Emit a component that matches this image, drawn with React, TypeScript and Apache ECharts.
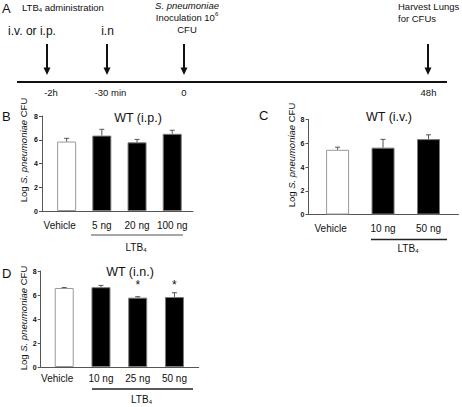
import React, { useEffect, useRef } from "react";
import * as echarts from "echarts";

// ---------- data ----------
const catsB = ["Vehicle", "5 ng", "20 ng", "100 ng"];
const valsB = [5.85, 6.35, 5.78, 6.5];
const errB = [0.27, 0.53, 0.25, 0.3];

const catsC = ["Vehicle", "10 ng", "50 ng"];
const valsC = [5.45, 5.63, 6.35];
const errC = [0.22, 0.7, 0.36];

const catsD = ["Vehicle", "10 ng", "25 ng", "50 ng"];
const valsD = [6.58, 6.65, 5.78, 5.83];
const errD = [0.04, 0.15, 0.08, 0.36];
const sigD = ["", "", "*", "*"];

const yTicks = [0, 2, 4, 6, 8];
const timeLabels = ["-2h", "-30 min", "0", "48h"];
const routeLabels = ["i.v. or i.p.", "i.n"];

const FONT = "Liberation Sans, Arial, Helvetica, sans-serif";

type Panel = {
  title: string;
  letter: string;
  cats: string[];
  vals: number[];
  errs: number[];
  sig?: string[];
  layout: {
    left: number; top: number; width: number; height: number;
    start: number; max: number; barWidth: number; labelMargin: number;
    letterX: number; letterY: number; titleX: number; titleY: number;
    nameX: number; nameY: number;
    bracket: [number, number, number]; bracketColor: string; ltbY: number;
  };
};

const panels: Panel[] = [
  {
    title: "WT (i.p.)", letter: "B", cats: catsB, vals: valsB, errs: errB,
    layout: {
      left: 42, top: 116, width: 151, height: 95, start: 0.7, max: 4.29, barWidth: 19, labelMargin: 9,
      letterX: 2, letterY: 116, titleX: 138, titleY: 118, nameX: 23, nameY: 150,
      bracket: [91, 183, 235], bracketColor: "#8a8a8a", ltbY: 247,
    },
  },
  {
    title: "WT (i.v.)", letter: "C", cats: catsC, vals: valsC, errs: errC,
    layout: {
      left: 308.5, top: 119.5, width: 150, height: 95, start: 0.64, max: 3.3, barWidth: 23, labelMargin: 9,
      letterX: 259, letterY: 115, titleX: 389, titleY: 117, nameX: 291.5, nameY: 155,
      bracket: [371, 447, 239.5], bracketColor: "#222", ltbY: 248,
    },
  },
  {
    title: "WT (i.n.)", letter: "D", cats: catsD, vals: valsD, errs: errD, sig: sigD,
    layout: {
      left: 40.7, top: 271, width: 158, height: 96, start: 0.64, max: 4.3, barWidth: 19, labelMargin: 6,
      letterX: 2, letterY: 273, titleX: 130, titleY: 272, nameX: 23, nameY: 318,
      bracket: [92, 193, 389], bracketColor: "#222", ltbY: 399,
    },
  },
];

function buildOption() {
  const grid: any[] = [];
  const xAxis: any[] = [];
  const yAxis: any[] = [];
  const series: any[] = [];
  const graphic: any[] = [];

  panels.forEach((p, gi) => {
    const L = p.layout;
    const pos = p.cats.map((_, i) => L.start + i);
    grid.push({ left: L.left, top: L.top, width: L.width, height: L.height, containLabel: false });
    xAxis.push({
      gridIndex: gi,
      type: "value",
      min: 0,
      max: L.max,
      splitLine: { show: false },
      axisTick: { show: false },
      axisLine: { show: true, lineStyle: { color: "#555", width: 1 } },
      axisLabel: {
        customValues: pos,
        margin: L.labelMargin,
        fontSize: 10,
        fontFamily: FONT,
        color: "#111",
        formatter: (v: number) => {
          const idx = pos.findIndex((q) => Math.abs(q - v) < 1e-6);
          if (idx < 0) return "";
          return idx === 0 ? "{v|" + p.cats[idx] + "}" : p.cats[idx];
        },
        rich: { v: { fontSize: 10, fontFamily: FONT, color: "#111", padding: [0, 14, 0, 0] } },
      },
    });
    yAxis.push({
      gridIndex: gi,
      type: "value",
      min: 0,
      max: 8,
      interval: 2,
      splitLine: { show: false },
      axisLine: { show: true, lineStyle: { color: "#555", width: 1 } },
      axisTick: { show: true, length: 3, lineStyle: { color: "#555" } },
      axisLabel: {
        fontSize: 7,
        fontWeight: "bold",
        fontFamily: FONT,
        color: "#111",
        margin: 4,
        customValues: yTicks,
      },
    });
    series.push({
      type: "bar",
      xAxisIndex: gi,
      yAxisIndex: gi,
      barWidth: L.barWidth,
      data: p.vals.map((v, i) => ({
        value: [pos[i], v],
        itemStyle:
          i === 0
            ? { color: "#fff", borderColor: "#9a9a9a", borderWidth: 1 }
            : { color: "#000", borderColor: "#7a7a7a", borderWidth: 1 },
      })),
    });
    series.push({
      type: "custom",
      xAxisIndex: gi,
      yAxisIndex: gi,
      z: 5,
      data: p.vals.map((v, i) => [pos[i], v, p.errs[i]]),
      renderItem: (params: any, api: any) => {
        const x = api.value(0);
        const y = api.value(1);
        const e = api.value(2);
        const a = api.coord([x, y]);
        const b = api.coord([x, y + e]);
        const st = { stroke: "#555", lineWidth: 1 };
        return {
          type: "group",
          children: [
            { type: "line", shape: { x1: a[0], y1: a[1], x2: b[0], y2: b[1] }, style: st },
            { type: "line", shape: { x1: b[0] - 2.5, y1: b[1], x2: b[0] + 2.5, y2: b[1] }, style: st },
          ],
        };
      },
    });
    if (p.sig) {
      series.push({
        type: "custom",
        xAxisIndex: gi,
        yAxisIndex: gi,
        z: 6,
        data: p.vals
          .map((v, i) => [pos[i], v + p.errs[i], p.sig![i]])
          .filter((d) => d[2] !== ""),
        renderItem: (params: any, api: any) => {
          const c = api.coord([api.value(0), 6.8]);
          return {
            type: "text",
            x: c[0],
            y: c[1],
            style: { text: "*", fontSize: 12, fontFamily: FONT, fill: "#111", align: "center", verticalAlign: "middle" },
          };
        },
      });
    }
    // panel decorations
    graphic.push({
      type: "text", x: L.letterX, y: L.letterY,
      style: { text: p.letter, fontSize: 13, fontFamily: FONT, fill: "#111", align: "left", verticalAlign: "middle" },
    });
    graphic.push({
      type: "text", x: L.titleX, y: L.titleY,
      style: { text: p.title, fontSize: 12.5, fontFamily: FONT, fill: "#111", align: "center", verticalAlign: "middle" },
    });
    graphic.push({
      type: "text", x: L.nameX, y: L.nameY, rotation: Math.PI / 2,
      style: {
        text: "{n|Log }{i|S. pneumoniae}{n| CFU}",
        align: "center", verticalAlign: "middle",
        rich: {
          n: { fontSize: 9.5, fontFamily: FONT, fill: "#111" },
          i: { fontSize: 9.5, fontFamily: FONT, fontStyle: "italic", fill: "#111" },
        },
      },
    });
    graphic.push({
      type: "line",
      shape: { x1: L.bracket[0], y1: L.bracket[2], x2: L.bracket[1], y2: L.bracket[2] },
      style: { stroke: L.bracketColor, lineWidth: 1.3 },
    });
    graphic.push({
      type: "text", x: (L.bracket[0] + L.bracket[1]) / 2 - 1, y: L.ltbY,
      style: {
        text: "{a|LTB}{s|4}",
        align: "center", verticalAlign: "middle",
        rich: {
          a: { fontSize: 10, fontFamily: FONT, fill: "#111", lineHeight: 12 },
          s: { fontSize: 6, fontFamily: FONT, fill: "#111", verticalAlign: "bottom", lineHeight: 12, padding: [4, 0, 0, 0] },
        },
      },
    });
  });

  // ---------- panel A: timeline schematic ----------
  const arrowX = [47, 107, 184, 428];
  const timeX = [51, 110.5, 184, 428.5];
  graphic.push({
    type: "text", x: 2, y: 8,
    style: { text: "A", fontSize: 13, fontFamily: FONT, fill: "#111", align: "left", verticalAlign: "middle" },
  });
  graphic.push({
    type: "text", x: 22, y: 7,
    style: {
      text: "{a|LTB}{s|4}{a| administration}",
      align: "left", verticalAlign: "middle",
      rich: {
        a: { fontSize: 9.5, fontFamily: FONT, fill: "#111", lineHeight: 12 },
        s: { fontSize: 6, fontFamily: FONT, fill: "#111", verticalAlign: "bottom", lineHeight: 12, padding: [4, 0, 0, 0] },
      },
    },
  });
  graphic.push({
    type: "text", x: 32, y: 31,
    style: { text: routeLabels[0], fontSize: 12, fontFamily: FONT, fill: "#111", align: "center", verticalAlign: "middle" },
  });
  graphic.push({
    type: "text", x: 107.5, y: 31,
    style: { text: routeLabels[1], fontSize: 12, fontFamily: FONT, fill: "#111", align: "center", verticalAlign: "middle" },
  });
  graphic.push({
    type: "text", x: 187, y: 5.5,
    style: { text: "S. pneumoniae", fontSize: 9.5, fontStyle: "italic", fontFamily: FONT, fill: "#111", align: "center", verticalAlign: "middle" },
  });
  graphic.push({
    type: "text", x: 187, y: 17,
    style: {
      text: "{a|Inoculation 10}{s|6}",
      align: "center", verticalAlign: "middle",
      rich: {
        a: { fontSize: 9.5, fontFamily: FONT, fill: "#111", lineHeight: 12 },
        s: { fontSize: 6, fontFamily: FONT, fill: "#111", verticalAlign: "top", lineHeight: 12 },
      },
    },
  });
  graphic.push({
    type: "text", x: 187, y: 29,
    style: { text: "CFU", fontSize: 9.5, fontFamily: FONT, fill: "#111", align: "center", verticalAlign: "middle" },
  });
  graphic.push({
    type: "text", x: 398, y: 6,
    style: { text: "Harvest Lungs", fontSize: 9.5, fontFamily: FONT, fill: "#111", align: "left", verticalAlign: "middle" },
  });
  graphic.push({
    type: "text", x: 398, y: 18,
    style: { text: "for CFUs", fontSize: 9.5, fontFamily: FONT, fill: "#111", align: "left", verticalAlign: "middle" },
  });
  arrowX.forEach((x) => {
    graphic.push({ type: "line", shape: { x1: x, y1: 44, x2: x, y2: 69 }, style: { stroke: "#111", lineWidth: 2 } });
    graphic.push({
      type: "polygon",
      shape: { points: [[x - 3.5, 67.5], [x + 3.5, 67.5], [x, 75]] },
      style: { fill: "#111" },
    });
  });
  graphic.push({ type: "line", shape: { x1: 17, y1: 82, x2: 447, y2: 82 }, style: { stroke: "#111", lineWidth: 2 } });
  timeLabels.forEach((t, i) => {
    graphic.push({
      type: "text", x: timeX[i], y: 92.5,
      style: { text: t, fontSize: 9.5, fontFamily: FONT, fill: "#111", align: "center", verticalAlign: "middle" },
    });
  });

  return {
    animation: false,
    backgroundColor: "#fff",
    textStyle: { fontFamily: FONT },
    grid,
    xAxis,
    yAxis,
    series,
    graphic,
  };
}

export default function App() {
  const ref = useRef<HTMLDivElement>(null);
  useEffect(() => {
    if (!ref.current) return;
    const chart = echarts.init(ref.current, undefined, { renderer: "svg" });
    chart.setOption(buildOption() as any);
    return () => chart.dispose();
  }, []);
  return (
    <div
      ref={ref}
      style={{ position: "fixed", left: 0, top: 0, width: 462, height: 407, background: "#fff" }}
    />
  );
}
